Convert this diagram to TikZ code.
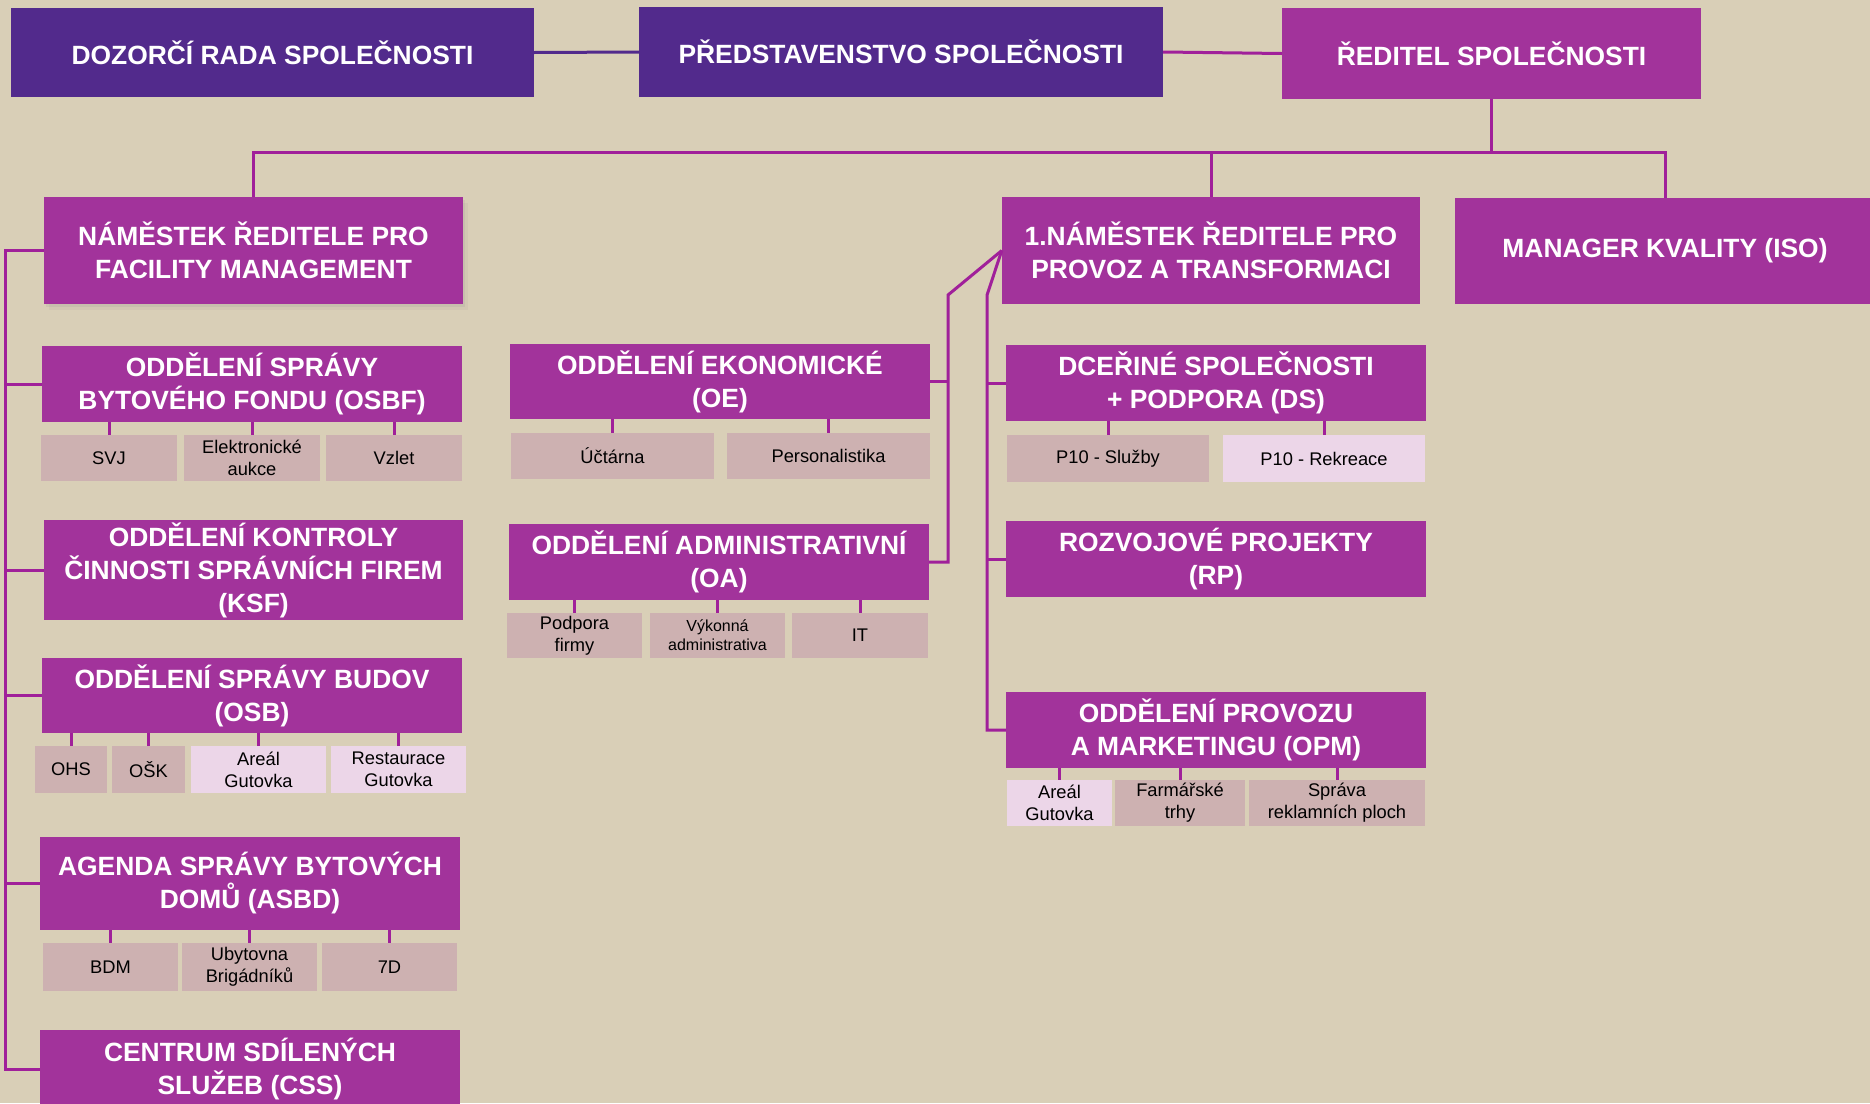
\documentclass[tikz,border=0pt]{standalone}
\usepackage{fontspec}
\setmainfont{Liberation Sans}
\usepackage{xcolor}
\usetikzlibrary{calc,positioning,shadows}
\definecolor{boardpurple}{HTML}{522A8C}
\definecolor{headmagenta}{HTML}{A2339B}
\definecolor{linemagenta}{HTML}{A0209A}
\definecolor{unitgrey}{HTML}{CDB1B1}
\definecolor{unitpink}{HTML}{ECD6E8}
\definecolor{canvas}{HTML}{D9CFB7}
\tikzset{%
	board/.style     = {rectangle, fill=boardpurple, text=white, inner sep=2pt, align=center, font=\fontsize{26.4}{33}\selectfont\bfseries},
	head/.style      = {board, fill=headmagenta},
	unit/.style      = {rectangle, fill=unitgrey, text=black, inner sep=1pt, align=center, font=\fontsize{18.3}{22}\selectfont},
	unitlight/.style = {unit, fill=unitpink},
	dims/.style 2 args = {minimum width=#1pt, minimum height=#2pt},
	softshadow/.style = {drop shadow={shadow xshift=2pt,shadow yshift=-3pt,opacity=0.12}, drop shadow={shadow xshift=5pt,shadow yshift=-6pt,opacity=0.08}},
	link/.style      = {line width=3pt, draw=linemagenta},
}

\begin{document}
\begin{tikzpicture}[x=1pt,y=-1pt]
	\fill[canvas] (0,0) rectangle (1870,1103);
	\useasboundingbox (0,0) rectangle (1870,1103);
	\node[board,dims={523}{89}] (doz) at (272.5,52.5) {DOZORČÍ RADA SPOLEČNOSTI};
	\node[board,dims={524}{90}] (pred) at (901,52) {PŘEDSTAVENSTVO SPOLEČNOSTI};
	\node[head,dims={419}{91}] (red) at (1491.5,53.5) {ŘEDITEL SPOLEČNOSTI};
	\node[head,dims={419}{107},softshadow] (nfm) at (253.5,250.5) {NÁMĚSTEK ŘEDITELE PRO\\FACILITY MANAGEMENT};
	\node[head,dims={418}{107}] (n1) at (1211,250.5) {1.NÁMĚSTEK ŘEDITELE PRO\\PROVOZ A TRANSFORMACI};
	\node[head,dims={420}{106}] (mgr) at (1665,251) {MANAGER KVALITY (ISO)};
	\node[head,dims={420}{76}] (osbf) at (252,384) {ODDĚLENÍ SPRÁVY\\BYTOVÉHO FONDU (OSBF)};
	\node[unit,dims={136}{46}] (svj) at (109,458) {SVJ};
	\node[unit,dims={136}{46}] (ele) at (252,458) {Elektronické\\aukce};
	\node[unit,dims={136}{46}] (vzl) at (394,458) {Vzlet};
	\node[head,dims={419}{94}] (ksf) at (253.5,570) {ODDĚLENÍ KONTROLY\\ČINNOSTI SPRÁVNÍCH FIREM\\(KSF)};
	\node[head,dims={420}{75}] (osb) at (252,695.5) {ODDĚLENÍ SPRÁVY BUDOV\\(OSB)};
	\node[unit,dims={72}{47}] (ohs) at (71,769.5) {OHS};
	\node[unit,dims={73}{47}] (osk) at (148.5,769.5) {OŠK};
	\node[unitlight,dims={135}{47}] (are) at (258.5,769.5) {Areál\\Gutovka};
	\node[unitlight,dims={135}{47}] (res) at (398.5,769.5) {Restaurace\\Gutovka};
	\node[head,dims={420}{93}] (asbd) at (250,883.5) {AGENDA SPRÁVY BYTOVÝCH\\DOMŮ (ASBD)};
	\node[unit,dims={135}{48}] (bdm) at (110.5,967) {BDM};
	\node[unit,dims={135}{48}] (uby) at (249.5,967) {Ubytovna\\Brigádníků};
	\node[unit,dims={135}{48}] (d7) at (389.5,967) {7D};
	\node[head,dims={420}{78}] (css) at (250,1069) {CENTRUM SDÍLENÝCH\\SLUŽEB (CSS)};
	\node[head,dims={420}{75}] (oe) at (720,381.5) {ODDĚLENÍ EKONOMICKÉ\\(OE)};
	\node[unit,dims={203}{46}] (uct) at (612.5,456) {Účtárna};
	\node[unit,dims={203}{46}] (per) at (828.5,456) {Personalistika};
	\node[head,dims={420}{76}] (oa) at (719,562) {ODDĚLENÍ ADMINISTRATIVNÍ\\(OA)};
	\node[unit,dims={135}{45}] (pod) at (574.5,635.5) {Podpora\\firmy};
	\node[unit,dims={135}{45},font=\fontsize{16}{19}\selectfont] (vyk) at (717.5,635.5) {Výkonná\\administrativa};
	\node[unit,dims={136}{45}] (it) at (860,635.5) {IT};
	\node[head,dims={420}{76}] (ds) at (1216,383) {DCEŘINÉ SPOLEČNOSTI\\+ PODPORA (DS)};
	\node[unit,dims={202}{47}] (p10s) at (1108,458.5) {P10 - Služby};
	\node[unitlight,dims={202}{47}] (p10r) at (1324,458.5) {P10 - Rekreace};
	\node[head,dims={420}{76}] (rp) at (1216,559) {ROZVOJOVÉ PROJEKTY\\(RP)};
	\node[head,dims={420}{76}] (opm) at (1216,730) {ODDĚLENÍ PROVOZU\\A MARKETINGU (OPM)};
	\node[unitlight,dims={105}{46}] (are2) at (1059.5,803) {Areál\\Gutovka};
	\node[unit,dims={130}{46}] (far) at (1180,803) {Farmářské\\trhy};
	\node[unit,dims={176}{46}] (spr) at (1337,803) {Správa\\reklamních ploch};
	\coordinate (bus) at (0,152);
	\coordinate (spine) at (5,0);
	\coordinate (oebend) at (948,295);
	\coordinate (dsbend) at (987,295);
	\draw[line width=3pt,draw=boardpurple] (doz.east) -- (pred.west);
	\draw[link] (pred.east) -- (red.west);
	\draw[link] (red.south) -- (red.south |- bus);
	\draw[link] (nfm.north) |- (mgr.north |- bus) -- (mgr.north);
	\draw[link] (n1.north) -- (n1.north |- bus);
	\draw[link] (nfm.west) -- (nfm.west -| spine) |- (css.west);
	\foreach \d in {osbf,ksf,osb,asbd}
		\draw[link] (\d.west) -- (\d.west -| spine);
	\draw[link] (n1.west) -- (oebend) |- (oa.east);
	\draw[link] (oe.east) -- (oe.east -| oebend);
	\draw[link] (n1.west) -- (dsbend) |- (opm.west);
	\foreach \d in {ds,rp}
		\draw[link] (\d.west) -- (\d.west -| dsbend);
	\foreach \u/\d in {svj/osbf,ele/osbf,vzl/osbf,ohs/osb,osk/osb,are/osb,res/osb,bdm/asbd,uby/asbd,d7/asbd,uct/oe,per/oe,pod/oa,vyk/oa,it/oa,p10s/ds,p10r/ds,are2/opm,far/opm,spr/opm}
		\draw[link] (\u.north) -- (\u.north |- \d.south);
\end{tikzpicture}
\end{document}
